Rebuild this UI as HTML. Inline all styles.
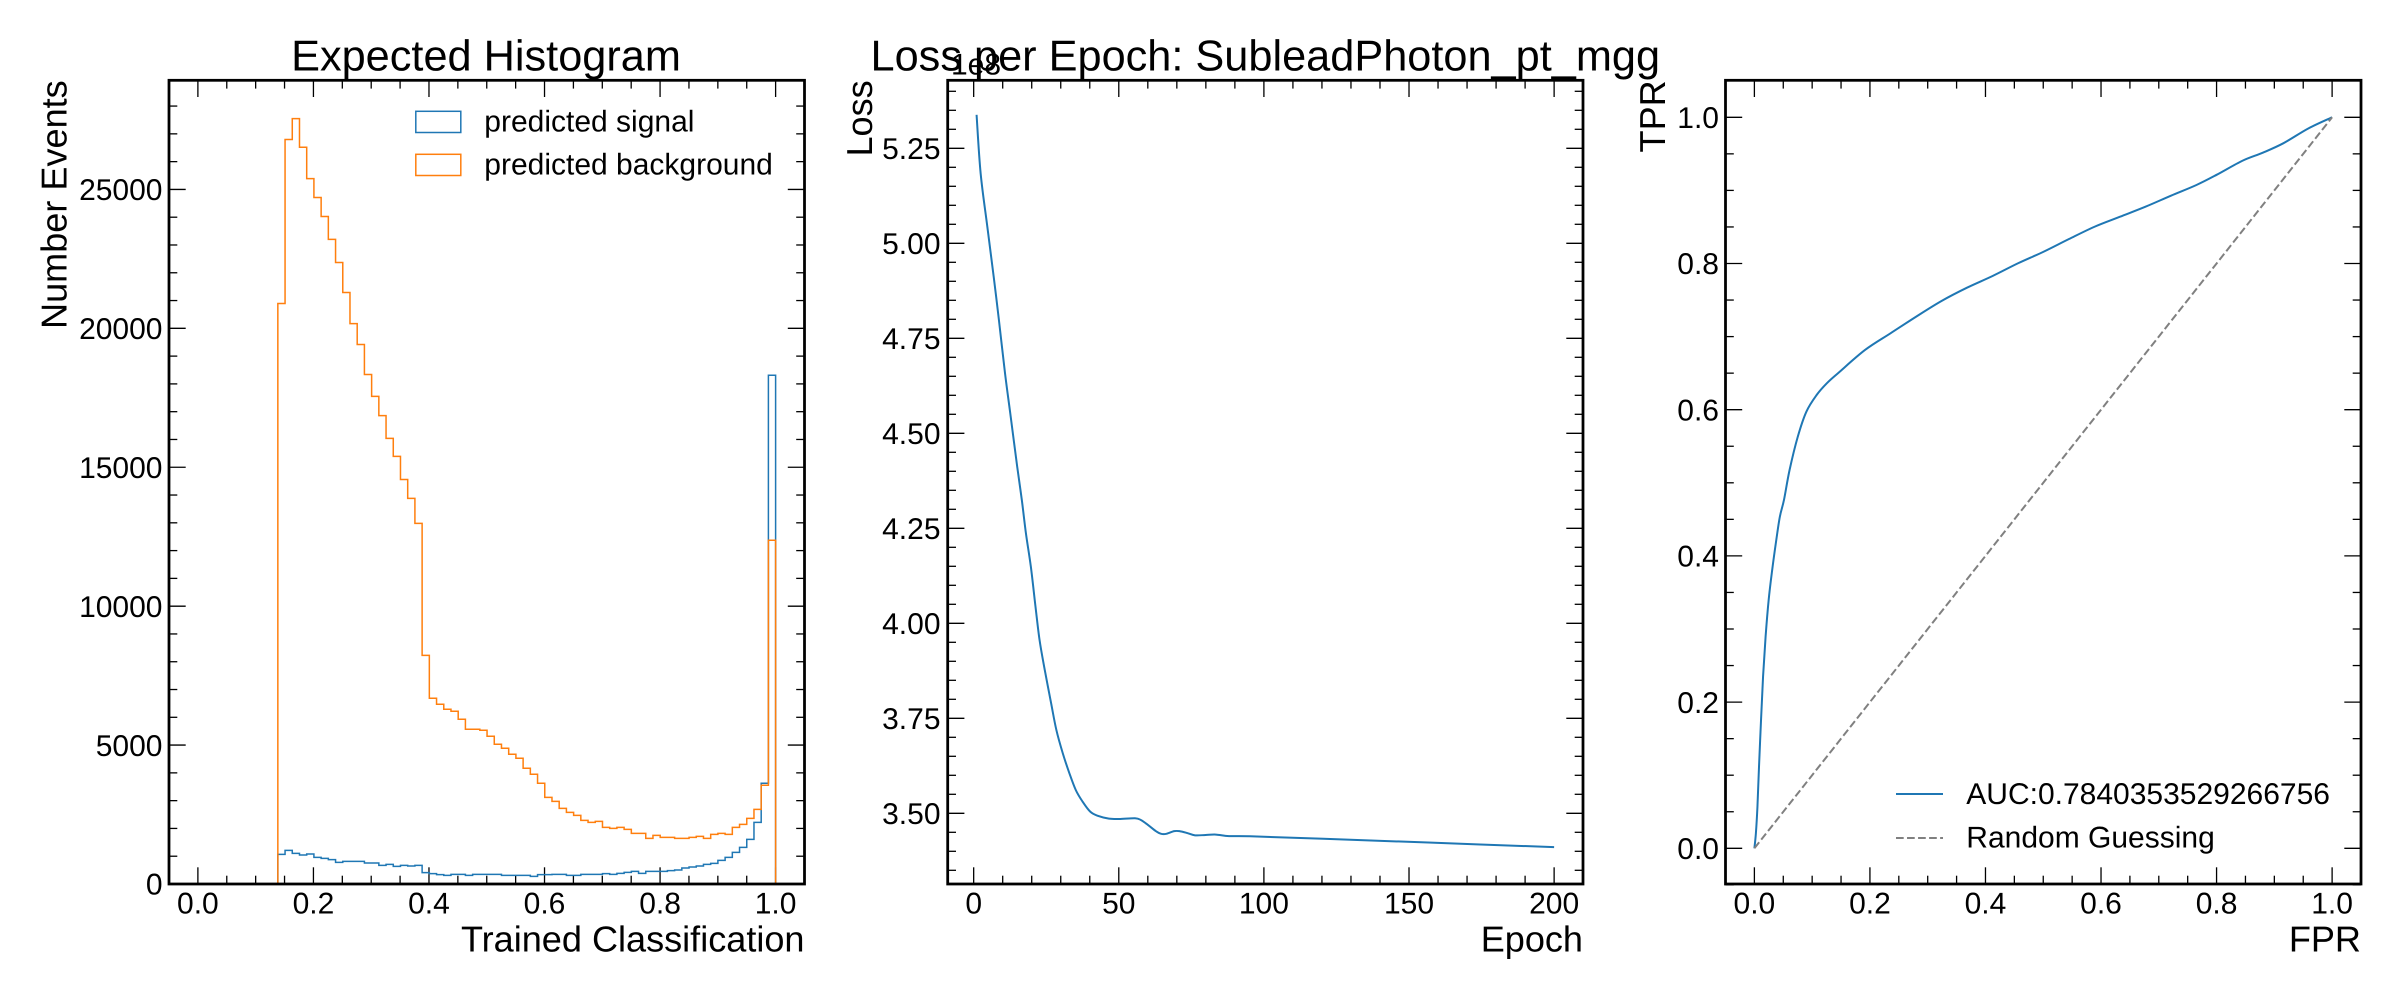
<!DOCTYPE html>
<html lang="en">
<head>
<meta charset="utf-8">
<title>Classifier training summary</title>
<style>
html,body{margin:0;padding:0;background:#fff;}
svg{display:block;}
text{font-family:"Liberation Sans",Arial,sans-serif;fill:#000;text-rendering:geometricPrecision;}
.tick-label{font-size:30px;}
.axis-label{font-size:36.1px;}
.title{font-size:43.3px;}
.legend-text{font-size:30px;}
</style>
</head>
<body>
<svg id="figure" xmlns="http://www.w3.org/2000/svg" width="2400" height="1000" viewBox="0 0 2400 1000">
  <rect x="0" y="0" width="2400" height="1000" fill="#ffffff"/>

  <g id="panel-hist"></g>
  <g id="panel-loss"></g>
  <g id="panel-roc"></g>

  <text class="title" x="486" y="70.7" text-anchor="middle">Expected Histogram</text>
  <text class="axis-label" x="804.5" y="951.7" text-anchor="end">Trained Classification</text>
  <text class="axis-label" transform="translate(66.4,80.3) rotate(-90)" text-anchor="end">Number Events</text>

  <g>
    <rect x="415.8" y="111.3" width="45" height="21.2" fill="none" stroke="#1f77b4" stroke-width="1.5"/>
    <text class="legend-text" x="484.3" y="131.7">predicted signal</text>
    <rect x="415.8" y="154.3" width="45" height="21.2" fill="none" stroke="#ff7f0e" stroke-width="1.5"/>
    <text class="legend-text" x="484.3" y="174.3">predicted background</text>
  </g>

  <text class="title" x="1265.3" y="70.7" text-anchor="middle">Loss per Epoch: SubleadPhoton_pt_mgg</text>
  <text class="tick-label" x="951" y="74.5">1e8</text>
  <text class="axis-label" x="1583" y="951.7" text-anchor="end">Epoch</text>
  <text class="axis-label" transform="translate(872.2,80.3) rotate(-90)" text-anchor="end">Loss</text>

  <text class="axis-label" x="2361" y="951.7" text-anchor="end">FPR</text>
  <text class="axis-label" transform="translate(1665,80.3) rotate(-90)" text-anchor="end">TPR</text>

  <g>
    <line x1="1896" y1="794" x2="1943" y2="794" stroke="#1f77b4" stroke-width="2"/>
    <text class="legend-text" x="1966.3" y="804">AUC:0.7840353529266756</text>
    <line x1="1896" y1="838" x2="1943" y2="838" stroke="#808080" stroke-width="2" stroke-dasharray="7.7 3.33"/>
    <text class="legend-text" x="1966.3" y="847.7">Random Guessing</text>
  </g>
</svg>

<script>
// ---------- Histogram data ----------
const histBinStart = 0.1384;
const histBinEnd = 1.0;
const signalCounts = [1068,1212,1104,1044,1080,960,924,876,780,816,816,816,756,756,672,708,636,672,648,672,
  408,372,336,312,348,348,312,348,348,348,348,312,312,312,312,276,336,336,348,348,312,312,348,348,348,372,348,384,420,456,384,456,456,456,480,504,576,612,648,708,744,852,960,1140,1320,1608,2220,3624,18312];
const backgroundCounts = [20896,26795,27550,26520,25390,24710,24025,23200,22370,21290,20170,19420,18340,17550,16860,16040,15390,14560,13880,12980,
  8230,6684,6468,6288,6216,5928,5568,5568,5532,5316,5028,4884,4668,4524,4164,3948,3624,3120,2976,2724,2580,2472,2292,2220,2256,2040,2004,2040,1968,1824,1824,1644,1752,1680,1680,1644,1644,1680,1716,1644,1788,1824,1788,2040,2148,2364,2688,3552,12372];
const histXTicks = [0,0.2,0.4,0.6,0.8,1.0];
const histXTickLabels = ["0.0","0.2","0.4","0.6","0.8","1.0"];
const histYTicks = [0,5000,10000,15000,20000,25000];
const histYTickLabels = ["0","5000","10000","15000","20000","25000"];

// ---------- Loss data ----------
const lossEpochs = [1,2.4,4.7,6.9,8.7,10.8,12.6,15,16.6,18,19.7,21.3,22.7,24.5,26.7,28.5,30.7,33,35.2,37.5,40.2,42.9,46.6,50.1,55.6,57.7,60.1,62.8,64.6,66.4,69.1,70.9,73.6,76.3,79.9,83.5,88,95.2,120.5,156.6,200];
const lossValues = [5.338,5.184,5.044,4.912,4.798,4.658,4.553,4.412,4.324,4.237,4.149,4.044,3.956,3.877,3.789,3.719,3.658,3.605,3.561,3.531,3.504,3.493,3.486,3.485,3.487,3.482,3.469,3.453,3.446,3.446,3.453,3.453,3.448,3.442,3.443,3.444,3.440,3.4395,3.433,3.423,3.411];
const lossXTicks = [0,50,100,150,200];
const lossXTickLabels = ["0","50","100","150","200"];
const lossYTicks = [3.5,3.75,4.0,4.25,4.5,4.75,5.0,5.25];
const lossYTickLabels = ["3.50","3.75","4.00","4.25","4.50","4.75","5.00","5.25"];

// ---------- ROC data ----------
const rocFpr = [0,0.0026,0.0053,0.008,0.0115,0.015,0.0194,0.0247,0.0308,0.0379,0.0441,0.0512,0.0609,0.0751,0.09,0.1077,0.1253,0.1457,0.1915,0.2356,0.2798,0.3239,0.368,0.4123,0.4564,0.5005,0.5446,0.5888,0.6329,0.677,0.7211,0.7652,0.8005,0.8448,0.8801,0.9154,0.9595,1];
const rocTpr = [0,0.0205,0.057,0.1117,0.1755,0.2348,0.2895,0.3397,0.3807,0.4217,0.4537,0.4765,0.5175,0.563,0.5973,0.6201,0.6361,0.6506,0.6817,0.7045,0.7272,0.7487,0.7669,0.7829,0.8003,0.8161,0.8335,0.8503,0.864,0.8777,0.8928,0.9074,0.9215,0.9406,0.9516,0.9644,0.985,1];
const guessFpr = [0,1];
const guessTpr = [0,1];
const rocXTicks = [0,0.2,0.4,0.6,0.8,1.0];
const rocXTickLabels = ["0.0","0.2","0.4","0.6","0.8","1.0"];
const rocYTicks = [0,0.2,0.4,0.6,0.8,1.0];
const rocYTickLabels = ["0.0","0.2","0.4","0.6","0.8","1.0"];

const NS = "http://www.w3.org/2000/svg";
const AX_TOP = 80.3, AX_BOTTOM = 884;
const MAJOR = 16.7, MINOR = 8.3;

function scale(d0, d1, p0, p1) {
  return function (v) { return p0 + (v - d0) * (p1 - p0) / (d1 - d0); };
}
function make(tag, parent, attrs) {
  const el = document.createElementNS(NS, tag);
  for (const k in attrs) el.setAttribute(k, attrs[k]);
  parent.appendChild(el);
  return el;
}

function drawAxes(parent, left, right, x, y, xTicks, xLabels, xSub, yTicks, yLabels, ySub, xLo, xHi, yLo, yHi, labelRight) {
  const xStep = xTicks[1] - xTicks[0];
  const yStep = yTicks[1] - yTicks[0];
  const tw = 1.3;

  for (let i = 0; i < xTicks.length; i++) {
    for (const [a, b] of [[AX_BOTTOM, AX_BOTTOM - MAJOR], [AX_TOP, AX_TOP + MAJOR]]) {
      const t = make("line", parent, {x1: x(xTicks[i]), x2: x(xTicks[i]), y1: a, y2: b, stroke: "#000", "stroke-width": tw});
      
      
    }
    const lab = make("text", parent, {x: x(xTicks[i]), y: 913.3, "text-anchor": "middle", class: "tick-label"});
    lab.textContent = xLabels[i];
    
    
  }
  for (let k = -xSub; k <= (xTicks.length) * xSub; k++) {
    if (k % xSub === 0) continue;
    const v = xTicks[0] + k * xStep / xSub;
    if (v < xLo || v > xHi) continue;
    for (const [a, b] of [[AX_BOTTOM, AX_BOTTOM - MINOR], [AX_TOP, AX_TOP + MINOR]]) {
      const t = make("line", parent, {x1: x(v), x2: x(v), y1: a, y2: b, stroke: "#000", "stroke-width": tw});
      
      
    }
  }
  for (let i = 0; i < yTicks.length; i++) {
    for (const [a, b] of [[left, left + MAJOR], [right, right - MAJOR]]) {
      const t = make("line", parent, {x1: a, x2: b, y1: y(yTicks[i]), y2: y(yTicks[i]), stroke: "#000", "stroke-width": tw});
      
      
    }
    const lab = make("text", parent, {x: labelRight, y: y(yTicks[i]) + 10.7, "text-anchor": "end", class: "tick-label"});
    lab.textContent = yLabels[i];
    
    
  }
  for (let k = -ySub; k <= (yTicks.length + 1) * ySub; k++) {
    if (k % ySub === 0) continue;
    const v = yTicks[0] + k * yStep / ySub;
    if (v < yLo || v > yHi) continue;
    for (const [a, b] of [[left, left + MINOR], [right, right - MINOR]]) {
      const t = make("line", parent, {x1: a, x2: b, y1: y(v), y2: y(v), stroke: "#000", "stroke-width": tw});
      
      
    }
  }
}

function drawFrame(parent, left, right) {
  const r = make("rect", parent, {x: left, y: AX_TOP, width: right - left, height: AX_BOTTOM - AX_TOP, fill: "none", stroke: "#000", "stroke-width": 2.78});
  
  
}

// Smooth curve through the read-off points (Catmull-Rom to cubic Bezier).
function smoothPath(xs, ys, x, y) {
  const px = xs.map(x);
  const py = ys.map(y);
  let d = "M" + px[0].toFixed(2) + " " + py[0].toFixed(2);
  for (let i = 0; i < px.length - 1; i++) {
    const a = Math.max(i - 1, 0);
    const b = Math.min(i + 2, px.length - 1);
    const c1x = px[i] + (px[i + 1] - px[a]) / 6;
    const c1y = py[i] + (py[i + 1] - py[a]) / 6;
    const c2x = px[i + 1] - (px[b] - px[i]) / 6;
    const c2y = py[i + 1] - (py[b] - py[i]) / 6;
    d += "C" + c1x.toFixed(2) + " " + c1y.toFixed(2) + " " + c2x.toFixed(2) + " " + c2y.toFixed(2) + " " + px[i + 1].toFixed(2) + " " + py[i + 1].toFixed(2);
  }
  return d;
}
function linePath(xs, ys, x, y) {
  return xs.map(function (v, i) { return (i ? "L" : "M") + x(v).toFixed(2) + " " + y(ys[i]).toFixed(2); }).join("");
}
function stepPath(counts, x, y) {
  const w = (histBinEnd - histBinStart) / counts.length;
  let d = "M" + x(histBinStart).toFixed(2) + " " + y(0).toFixed(2);
  counts.forEach(function (c, i) {
    d += "L" + x(histBinStart + i * w).toFixed(2) + " " + y(c).toFixed(2);
    d += "L" + x(histBinStart + (i + 1) * w).toFixed(2) + " " + y(c).toFixed(2);
  });
  d += "L" + x(histBinEnd).toFixed(2) + " " + y(0).toFixed(2);
  return d;
}

// ---------- Panel 1: histogram ----------
(function () {
  const g = document.getElementById("panel-hist");
  const left = 169, right = 804.5;
  const maxCount = Math.max.apply(null, backgroundCounts.concat(signalCounts));
  const yTop = maxCount * 1.05;
  const x = scale(-0.05, 1.05, left, right);
  const y = scale(0, yTop, AX_BOTTOM, AX_TOP);
  drawAxes(g, left, right, x, y, histXTicks, histXTickLabels, 4, histYTicks, histYTickLabels, 5, -0.05, 1.05, 0, yTop, 162.5);
  const s = make("path", g, {d: stepPath(signalCounts, x, y), fill: "none", stroke: "#1f77b4", "stroke-width": 1.5});
  
  
  const b = make("path", g, {d: stepPath(backgroundCounts, x, y), fill: "none", stroke: "#ff7f0e", "stroke-width": 1.5});
  
  
  drawFrame(g, left, right);
})();

// ---------- Panel 2: loss ----------
(function () {
  const g = document.getElementById("panel-loss");
  const left = 947.7, right = 1583;
  const x = scale(-8.95, 209.95, left, right);
  const y = scale(3.5, 5.25, 813.3, 148.3);
  drawAxes(g, left, right, x, y, lossXTicks, lossXTickLabels, 5, lossYTicks, lossYTickLabels, 5, -8.95, 209.95, 3.314, 5.429, 940.5);
  const l = make("path", g, {d: smoothPath(lossEpochs, lossValues, x, y), fill: "none", stroke: "#1f77b4", "stroke-width": 2, "stroke-linejoin": "round"});
  
  
  drawFrame(g, left, right);
})();

// ---------- Panel 3: ROC ----------
(function () {
  const g = document.getElementById("panel-roc");
  const left = 1725.5, right = 2361;
  const x = scale(-0.05, 1.05, left, right);
  const y = scale(0, 1, 848.3, 117.3);
  drawAxes(g, left, right, x, y, rocXTicks, rocXTickLabels, 4, rocYTicks, rocYTickLabels, 4, -0.05, 1.05, -0.05, 1.05, 1719);
  const r = make("path", g, {d: smoothPath(rocFpr, rocTpr, x, y), fill: "none", stroke: "#1f77b4", "stroke-width": 2, "stroke-linejoin": "round"});
  
  
  const d = make("path", g, {d: linePath(guessFpr, guessTpr, x, y), fill: "none", stroke: "#808080", "stroke-width": 2, "stroke-dasharray": "7.7 3.33"});
  
  
  drawFrame(g, left, right);
})();
</script>
</body>
</html>
